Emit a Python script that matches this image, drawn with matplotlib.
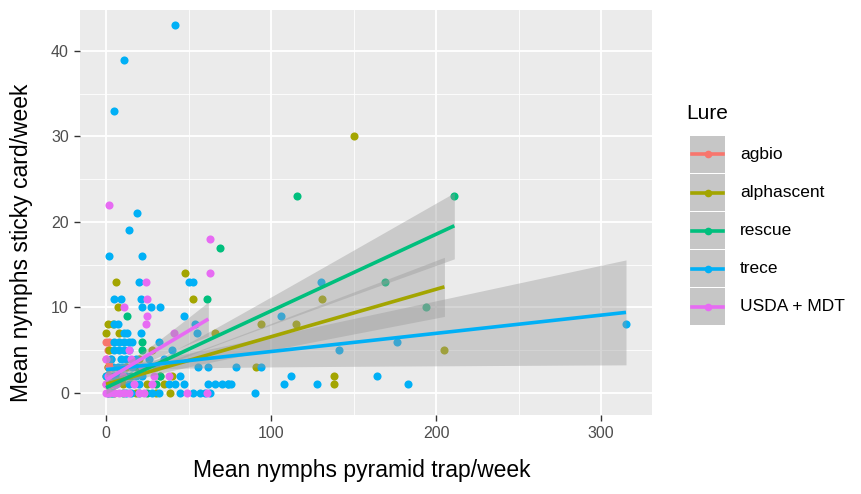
import numpy as np
import matplotlib.pyplot as plt
from matplotlib.patches import Rectangle
from matplotlib.lines import Line2D
from matplotlib.ticker import MultipleLocator

plt.rcParams["font.family"] = ["Liberation Sans", "DejaVu Sans"]

LURES = ["agbio", "alphascent", "rescue", "trece", "USDA + MDT"]
COLORS = ["#F8766D", "#A3A500", "#00BF7D", "#00B0F6", "#E76BF3"]

# punkty (pyramid trap, sticky card)
AGBIO_X = [0, 1, 2, 1, 2, 0, 3, 1, 0]
AGBIO_Y = [4, 5, 6, 3, 2, 1, 4, 0, 6]

ALPHA_X = [0, 1, 1, 6, 7, 4, 8, 2, 0, 3, 5, 12, 20, 25, 33, 39, 30, 48, 53,
           66, 91, 94, 115, 131, 138, 138, 150, 205, 10, 18, 40, 28, 35]
ALPHA_Y = [7, 8, 3, 13, 10, 8, 7, 5, 2, 1, 0, 3, 4, 1, 2, 0, 0, 14, 11,
           7, 3, 8, 8, 11, 2, 1, 30, 5, 1, 0, 2, 5, 1]

RESCUE_X = [13, 22, 22, 61, 69, 116, 169, 194, 211, 5, 10, 15, 30, 3, 8, 25,
            18, 33]
RESCUE_Y = [9, 6, 5, 11, 17, 23, 13, 10, 23, 1, 0, 2, 1, 0, 2, 0, 3, 2]

TRECE_X = [42, 11, 5, 19, 14, 2, 22, 20, 50, 53, 5, 9, 21, 22, 27, 33, 47, 5,
           54, 11, 13, 21, 55, 5, 8, 11, 14, 16, 32, 5, 8, 11, 14, 9, 12, 18,
           26, 4, 7, 10, 16, 56, 62, 79, 94, 0, 5, 8, 12, 18, 22, 112, 164, 2,
           6, 14, 20, 38, 42, 47, 62, 66, 70, 74, 76, 108, 128, 183, 1, 4, 12,
           20, 28, 32, 45, 53, 57, 60, 63, 90, 106, 130, 141, 176, 315, 35,
           40, 30, 45, 74, 3, 7, 10, 15]
TRECE_Y = [43, 39, 33, 21, 19, 16, 16, 13, 13, 13, 11, 11, 11, 10, 10, 10, 9,
           8, 8, 7, 7, 7, 7, 6, 6, 6, 6, 6, 6, 5, 5, 5, 5, 4, 4, 4, 4, 3, 3, 3,
           3, 3, 3, 3, 3, 2, 2, 2, 2, 2, 2, 2, 2, 1, 1, 1, 1, 1, 1, 1, 1, 1, 1,
           1, 1, 1, 1, 1, 0, 0, 0, 0, 0, 0, 0, 0, 0, 0, 0, 0, 9, 13, 5, 6, 8,
           4, 5, 3, 2, 1, 4, 8, 2, 0]

USDA_X = [2, 63, 63, 24, 25, 11, 25, 24, 41, 0, 15, 2, 0, 2, 5, 8, 11, 14, 20,
          49, 61, 0, 4, 17, 28, 29, 38, 14, 1, 10, 22, 23, 6]
USDA_Y = [22, 18, 14, 13, 11, 10, 9, 8, 7, 4, 4, 3, 0, 0, 0, 0, 0, 0, 0,
          0, 0, 1, 1, 1, 1, 2, 2, 5, 2, 2, 3, 0, 1]

POINTS_X = [AGBIO_X, ALPHA_X, RESCUE_X, TRECE_X, USDA_X]
POINTS_Y = [AGBIO_Y, ALPHA_Y, RESCUE_Y, TRECE_Y, USDA_Y]

# dopasowania liniowe (geom_smooth, method = "lm")
FIT_X1 = [4, 205, 211, 315, 62]
FIT_B0 = [3.3, 1.0, 0.6, 2.7, 1.5]
FIT_B1 = [0.0, 0.0556, 0.0898, 0.0213, 0.115]
SE_MIN = [0.9, 0.5, 0.55, 0.5, 0.7]
X_BAR = [1.5, 20, 25, 15, 15]
SE_SLOPE = [0.1, 0.0185, 0.0206, 0.0204, 0.040]

W, H = 861, 494
fig = plt.figure(figsize=(W / 100, H / 100), dpi=100)
L, R, T, B = 80, 652, 10, 415
ax = fig.add_axes([L / W, 1 - B / H, (R - L) / W, (B - T) / H])
ax.set_facecolor("#EBEBEB")
for s in ax.spines.values():
    s.set_visible(False)

for i, lure in enumerate(LURES):
    ax.scatter(POINTS_X[i], POINTS_Y[i], s=34, color=COLORS[i],
               linewidths=0, zorder=3)

for i, lure in enumerate(LURES):
    x = np.linspace(0, FIT_X1[i], 100)
    yhat = FIT_B0[i] + FIT_B1[i] * x
    hw = np.sqrt(SE_MIN[i] ** 2 + (SE_SLOPE[i] * (x - X_BAR[i])) ** 2)
    ax.fill_between(x, yhat - hw, yhat + hw, color="#999999", alpha=0.4,
                    linewidth=0, zorder=4)
    ax.plot(x, yhat, color=COLORS[i], lw=2.6, zorder=5,
            solid_capstyle="butt")

ax.set_xlim(-15.75, 330.75)
ax.set_ylim(-2.6, 44.8)
ax.xaxis.set_major_locator(MultipleLocator(100))
ax.xaxis.set_minor_locator(MultipleLocator(50))
ax.yaxis.set_major_locator(MultipleLocator(10))
ax.yaxis.set_minor_locator(MultipleLocator(5))
ax.grid(which="major", color="white", lw=1.3, zorder=0)
ax.grid(which="minor", color="white", lw=0.6, zorder=0)
ax.set_axisbelow(True)
ax.tick_params(which="major", length=4, width=1, color="#333333",
               labelcolor="#4D4D4D", labelsize=11.5, pad=4)
ax.tick_params(which="minor", length=0)

ax.set_xlabel("Mean nymphs pyramid trap/week", fontsize=16.5)
ax.xaxis.set_label_coords((362 - L) / (R - L), -(470 - B) / (B - T),
                          transform=ax.transAxes)
ax.xaxis.label.set_va("center")
ax.set_ylabel("Mean nymphs sticky card/week", fontsize=16.5)
ax.yaxis.set_label_coords(-(L - 22) / (R - L), (B - 243) / (B - T),
                          transform=ax.transAxes)
ax.yaxis.label.set_va("center")

# legenda w stylu ggplot
lax = fig.add_axes([0, 0, 1, 1], zorder=10)
lax.set_xlim(0, W)
lax.set_ylim(H, 0)
lax.axis("off")
lax.text(686, 113, "Lure", fontsize=15, va="center", ha="left")
for i, lure in enumerate(LURES):
    y0 = 136 + 38 * i
    lax.add_patch(Rectangle((690, y0), 35, 37, facecolor="#EBEBEB",
                            edgecolor="none"))
    lax.add_patch(Rectangle((690, y0), 35, 37, facecolor="#999999",
                            alpha=0.45, edgecolor="none"))
    lax.add_line(Line2D([692, 723], [y0 + 18.5, y0 + 18.5], color=COLORS[i],
                        lw=2.6))
    lax.plot(707.5, y0 + 18.5, "o", ms=5.5, color=COLORS[i], mec="none")
    lax.text(740, y0 + 18.5, lure, fontsize=12.5, va="center", ha="left")

fig.savefig("out.png", dpi=100)
